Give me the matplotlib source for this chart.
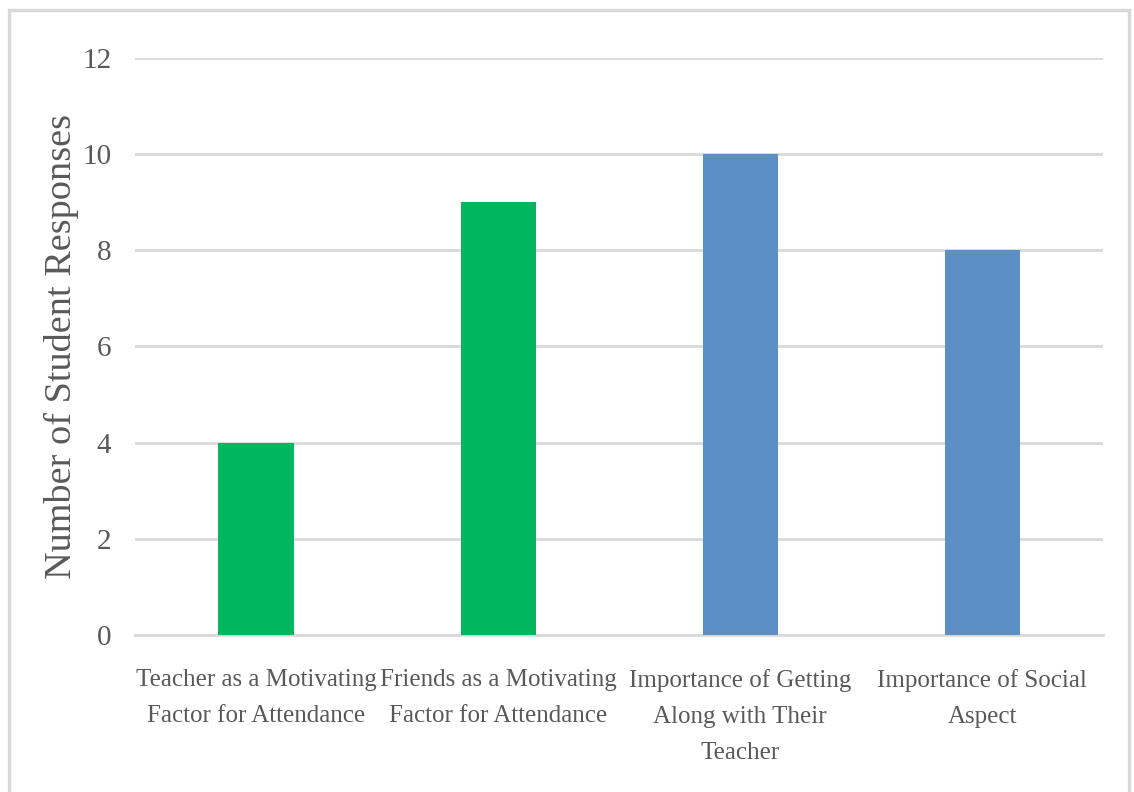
import matplotlib.pyplot as plt
from matplotlib.patches import Rectangle

# data
categories = ['Teacher as a Motivating\nFactor for Attendance',
              'Friends as a Motivating\nFactor for Attendance',
              'Importance of Getting\nAlong with Their\nTeacher',
              'Importance of Social\nAspect']
responses = [4, 9, 10, 8]
bar_colors = ['#00B760', '#00B760', '#5B8FC6', '#5B8FC6']
yticks = [0, 2, 4, 6, 8, 10, 12]

plt.rcParams['font.family'] = ['Liberation Serif', 'DejaVu Serif']

fig = plt.figure(figsize=(11.34, 7.92), dpi=100)
ax = fig.add_axes([0.119, 0.198, 0.854, 0.729])

# outer chart border
fig.patches.append(Rectangle((0.008, -0.01), 0.988, 0.997, transform=fig.transFigure,
                             fill=False, edgecolor='#D9D9D9', linewidth=2.5))

x = range(len(categories))
ax.bar(x, responses, width=0.31, color=bar_colors, zorder=3)

ax.set_xlim(-0.5, 3.5)
ax.set_ylim(0, 12)
ax.set_yticks(yticks)
ax.set_xticks(list(x))
ax.set_xticklabels(categories, fontsize=18, color='#595959', linespacing=1.85)
ax.tick_params(axis='y', labelsize=21, labelcolor='#595959', length=0, pad=17)
ax.tick_params(axis='x', length=0, pad=24)
ax.grid(axis='y', color='#D9D9D9', linewidth=2, zorder=0)
for s in ['top', 'right', 'left']:
    ax.spines[s].set_visible(False)
ax.spines['bottom'].set_color('#D9D9D9')
ax.spines['bottom'].set_linewidth(2)

ax.set_ylabel('Number of Student Responses', fontsize=27.5, color='#595959', labelpad=2)

fig.savefig('out.png', dpi=100)
